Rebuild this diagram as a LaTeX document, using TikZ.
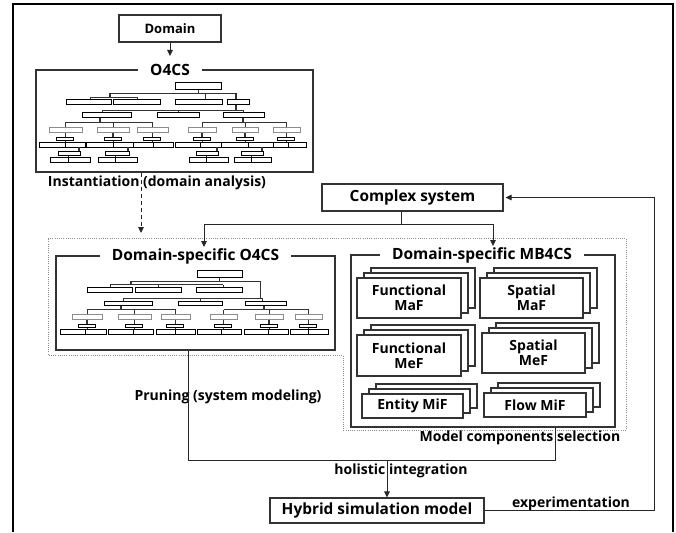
\documentclass[tikz,border=0pt]{standalone}
\usepackage{fontspec}
\setmainfont{Open Sans}
\usetikzlibrary{arrows.meta}
\tikzset{
 lbl/.style={font=\fontsize{14}{15}\selectfont\bfseries, inner sep=0pt},
 ttl/.style={font=\fontsize{15.5}{17}\selectfont\bfseries, fill=white, inner xsep=12pt, inner ysep=1pt},
 box/.style={draw=black!80, line width=1.1pt, fill=white, font=\fontsize{14}{15}\selectfont\bfseries, inner sep=0pt},
 bigtxt/.style={font=\fontsize{15.4}{16}\selectfont\bfseries},
 frm/.style={draw=black!80, line width=1.1pt},
 conn/.style={draw=black!85, line width=1pt},
 arr/.style={conn, -{Triangle[length=6pt,width=5.5pt]}},
 dotreg/.style={draw=black!45, line width=0.8pt, dash pattern=on 1pt off 1.2pt},
 tbox/.style={draw=black, line width=0.8pt, fill=white},
 gbox/.style={draw=black!45, line width=0.8pt, fill=white},
 tline/.style={draw=black!80, line width=0.7pt},
 tstem/.style={draw=black!80, line width=1.6pt},
}
\newcommand\trb[4]{\draw[tbox] (#1,#2) rectangle (#3,#4);}
\newcommand\trg[4]{\draw[gbox] (#1,#2) rectangle (#3,#4);}
\newcommand\grp[6]{%
 \draw[tline] (#1,#2+10) -- (#1,#2+15);
 \draw[tstem] (#1,#2+5) -- (#1,#2+10);
 \trb{#4}{#2+15}{#5}{#2+20}
 \trb{#5}{#2+15}{#6}{#2+20}
 \trg{#1-#3/2}{#2}{#1+#3/2}{#2+5}
 \trb{#1-9}{#2+10}{#1+8}{#2+13.5}
}
\newcommand\lsix[4]{%
 \draw[tstem] (#4-1,147) -- (#4-1,151.5);
 \draw[tline] (#2,155.5) -- (#2,157);
 \trb{#2-10}{151.5}{#4}{155.5}
 \trb{#1}{157}{#2}{162}
 \trb{#2}{157}{#3}{162}
}
\newcommand\stk[6]{%
 \draw[box] (#2-#4/2+14,#3-#5/2-10) rectangle (#2+#4/2+14,#3+#5/2-10);
 \draw[box] (#2-#4/2+7,#3-#5/2-5) rectangle (#2+#4/2+7,#3+#5/2-5);
 \node[box, minimum width=#4, minimum height=#5, align=center] (#1) at (#2,#3) {#6};
}
\begin{document}
\begin{tikzpicture}[x=1pt,y=-1pt]
\useasboundingbox (0,0) rectangle (676,532);
\fill[white] (0,0) rectangle (676,532);
\draw[line width=2.2pt] (13,532) -- (13,4) -- (673,4) -- (673,532);

% dotted region
\draw[dotreg] (48,238) -- (626,238) -- (626,430) -- (343,430) -- (343,355) -- (48,355) -- cycle;

% Domain and O4CS
\node[box, minimum width=102, minimum height=27, font=\fontsize{13}{14}\selectfont\bfseries] (dom) at (170,28.5) {Domain};
\node[frm, minimum width=277, minimum height=102] (o4cs) at (174.5,121) {};
\node[ttl] (o4csT) at (170,70) {O4CS};
\coordinate (o4csA) at (170,56);
\draw[arr] (dom.south) -- (o4csA);

% tree A
\draw[tline] (198,89) -- (198,93);
\draw[tline] (110,93) -- (236,93);
\draw[tstem] (110,93) -- (110,97);
\draw[tline] (90,97) -- (137,97);
\draw[tline] (90,97) -- (90,99);
\draw[tline] (137,97) -- (137,99);
\draw[tline] (205,93) -- (205,99);
\draw[tstem] (236,93) -- (236,110);
\draw[tline] (102,110) -- (243,110);
\draw[tline] (102,110) -- (102,112);
\draw[tline] (178,110) -- (178,112);
\draw[tline] (243,110) -- (243,112);
\draw[tstem] (100,117) -- (100,122);
\draw[tline] (65.5,122) -- (152.5,122);
\draw[tline] (65.5,122) -- (65.5,127);
\draw[tline] (113,122) -- (113,127);
\draw[tline] (152.5,122) -- (152.5,127);
\draw[tstem] (243,117) -- (243,122);
\draw[tline] (202,122) -- (286.5,122);
\draw[tline] (202,122) -- (202,127);
\draw[tline] (245,122) -- (245,127);
\draw[tline] (286.5,122) -- (286.5,127);
\trb{175}{82}{221}{89}
\trb{66}{99}{111}{104}
\trb{113}{99}{160}{104}
\trb{175}{99}{222}{104}
\trb{227}{99}{249}{104}
\trb{82}{112}{131}{117}
\trb{157}{112}{199}{117}
\trb{223}{112}{264}{117}
\grp{65.5}{127}{33}{39.3}{65}{85}
\grp{113}{127}{32}{86.7}{113.3}{133.3}
\grp{152.5}{127}{31}{133.3}{153.3}{173.3}
\grp{202}{127}{28}{175}{200}{221.7}
\grp{245}{127}{26}{221.7}{248.3}{273.3}
\grp{286.5}{127}{27}{273.3}{288}{306.7}
\lsix{50.7}{68.3}{90}{80}
\lsix{98}{115}{137}{129}
\lsix{189.3}{206.7}{228.3}{218}
\lsix{234}{251.7}{271.7}{263}

% instantiation
\node[lbl] (inst) at (157,183) {Instantiation (domain analysis)};
\coordinate (instE) at (141,233);
\draw[arr, dash pattern=on 4pt off 3pt] (o4cs.south -| instE) -- (instE);

% complex system
\node[box, bigtxt, minimum width=181, minimum height=27] (cs) at (412.5,197.5) {Complex system};
\coordinate (csj) at (401,224);
\coordinate (dsoA) at (204,247);
\coordinate (mbA) at (493,246);
\draw[conn] (cs.south -| csj) -- (csj);
\draw[arr] (csj) -| (dsoA);
\draw[arr] (csj) -| (mbA);

% domain-specific O4CS
\node[frm, minimum width=279, minimum height=94] (dso) at (195.5,303) {};
\node[ttl] (dsoT) at (195.5,256) {Domain-specific O4CS};

% tree B
\draw[tline] (219,277) -- (219,281);
\draw[tline] (130,281) -- (260,281);
\draw[tstem] (131,281) -- (131,284.5);
\draw[tline] (110,284.5) -- (223,284.5);
\draw[tline] (110,284.5) -- (110,287);
\draw[tline] (158,284.5) -- (158,287);
\draw[tline] (223,284.5) -- (223,287);
\draw[tline] (260,281) -- (260,298);
\draw[tline] (123,298) -- (262,298);
\draw[tline] (123,298) -- (123,301);
\draw[tline] (200,298) -- (200,301);
\draw[tline] (262,298) -- (262,301);
\draw[tstem] (121,305.5) -- (121,309.5);
\draw[tline] (87,309.5) -- (175.5,309.5);
\draw[tline] (87,309.5) -- (87,314);
\draw[tline] (134.5,309.5) -- (134.5,314);
\draw[tline] (175.5,309.5) -- (175.5,314);
\draw[tstem] (264,305.5) -- (264,309.5);
\draw[tline] (223.5,309.5) -- (308.5,309.5);
\draw[tline] (223.5,309.5) -- (223.5,314);
\draw[tline] (269,309.5) -- (269,314);
\draw[tline] (308.5,309.5) -- (308.5,314);
\trb{197}{270}{242}{277}
\trb{87}{287}{132}{292}
\trb{135}{287}{181}{292}
\trb{196}{287}{242}{292}
\trb{104}{301}{152}{305.5}
\trb{178}{301}{222}{305.5}
\trb{245}{301}{286}{305.5}
\grp{87}{314}{30}{60.7}{85}{106.7}
\grp{134.5}{314}{33}{108.3}{133.8}{153.3}
\grp{175.5}{314}{29}{156}{175.5}{195}
\grp{223.5}{314}{27}{197.3}{221.7}{241.7}
\grp{269}{314}{28}{244}{268.8}{288.3}
\grp{308.5}{314}{27}{290}{308.8}{328.3}

% domain-specific MB4CS
\node[frm, minimum width=264, minimum height=172] (mb) at (483,341) {};
\node[ttl] (mbT) at (482,255) {Domain-specific MB4CS};
\stk{fmaf}{409}{298}{104}{40}{Functional\\MaF}
\stk{smaf}{531.5}{298}{103}{40}{Spatial\\MaF}
\stk{fmef}{409}{355.5}{104}{41}{Functional\\MeF}
\stk{smef}{533.5}{353}{103}{40}{Spatial\\MeF}
\stk{emif}{412.5}{406}{101}{24}{Entity MiF}
\stk{fmif}{535}{405}{102}{24}{Flow MiF}

% labels
\node[lbl] (prun) at (228,397) {Pruning (system modeling)};
\node[lbl] (mcs) at (520,438) {Model components selection};
\node[lbl] (hol) at (401,471) {holistic integration};
\node[lbl] (expl) at (571,504) {experimentation};

% integration
\node[box, bigtxt, minimum width=214, minimum height=25] (hyb) at (377,510.5) {Hybrid simulation model};
\coordinate (p2) at (188,460);
\coordinate (m2) at (555,460);
\coordinate (hj) at (387,460);
\draw[conn] (dso.south -| p2) -- (p2) -- (m2) -- (mb.south -| m2);
\draw[arr] (hj) -- (hyb.north -| hj);

% experimentation loop
\coordinate (e1) at (654,300);
\draw[arr, shorten >=2pt] (hyb.east) -- (hyb.east -| e1) -- (e1 |- cs.east) -- (cs.east);
\end{tikzpicture}
\end{document}
